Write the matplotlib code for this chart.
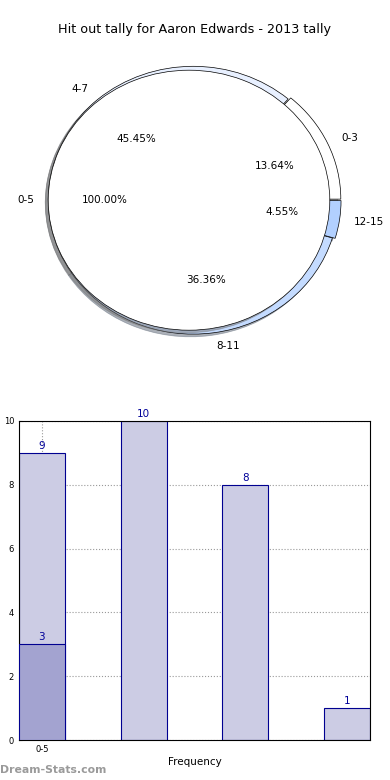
import numpy as np
from matplotlib import pyplot as plt

title = 'Hit out tally for Aaron Edwards - 2013 tally'

# outer ring of the pie
ring_labels = ['0-3', '4-7', '8-11', '12-15']
ring_vals = [13.64, 45.45, 36.36, 4.55]
ring_colors = ['#ffffff', '#e8f0ff', '#c4dbff', '#b2d0ff']

# inner pie
core_labels = ['0-5']
core_vals = [100.0]

# bar chart
bar_vals = [9, 10, 8, 1]
low_vals = [3]
tick_labels = ['0-5']

fig = plt.figure(figsize=(3.9, 7.8), dpi=100)
fig.text(0.5, 1 - 30/780., title, ha='center', va='center', fontsize=9.2)

shad = dict(ox=-0.015, oy=-0.015, shade=0.55)
ax1 = fig.add_axes([13/390., 0.535, 352/390., 325/780.])
w1, t1, p1 = ax1.pie(ring_vals, labels=ring_labels, colors=ring_colors,
                     explode=[0.02, 0, 0, 0.02], radius=1.03, center=(0.03, 0),
                     autopct='%.2f%%', pctdistance=0.6, labeldistance=1.1,
                     shadow=shad, startangle=0,
                     wedgeprops=dict(edgecolor='black', linewidth=0.5),
                     textprops=dict(fontsize=7.5))
w2, t2, p2 = ax1.pie(core_vals, labels=core_labels, colors=['white'],
                     radius=1.0, center=(0, 0), autopct='%.2f%%',
                     pctdistance=0.6, labeldistance=1.1, shadow=shad,
                     wedgeprops=dict(edgecolor='black', linewidth=0.5, zorder=3),
                     textprops=dict(fontsize=7.5, zorder=5))
for t in list(t1) + list(p1):
    t.set_zorder(5)
ax1.set_aspect('auto')
ax1.set_xlim(-1.25, 1.25)
ax1.set_ylim(-1.25, 1.25)
ax1.axis('off')

ax2 = fig.add_axes([19/390., 40/780., 351/390., 319/780.])
x = np.arange(len(bar_vals))
ax2.bar(x, bar_vals, width=0.45, color='#cccce4', edgecolor='#000090', linewidth=0.8, zorder=2)
ax2.bar(x[:len(low_vals)], low_vals, width=0.45, color='#a3a3d0', edgecolor='#000090', linewidth=0.8, zorder=3)
for xi, v in list(zip(x, bar_vals)) + list(zip(x, low_vals)):
    ax2.annotate(str(v), (xi, v), xytext=(0, 1.5), textcoords='offset points',
                 ha='center', va='bottom', color='#000099', fontsize=7.5, zorder=4)
ax2.set_xlim(-0.225, len(bar_vals) - 1 + 0.225)
ax2.set_ylim(0, 10)
ax2.set_yticks(np.arange(0, 11, 2))
ax2.set_xticks([0])
ax2.set_xticklabels(tick_labels)
ax2.tick_params(labelsize=6, length=2, color='gray', direction='in')
ax2.grid(True, linestyle=':', color='#999999', linewidth=0.8, zorder=0)
ax2.set_axisbelow(True)
ax2.set_xlabel('Frequency', fontsize=7.5, labelpad=2)
ax2.set_ylabel('Total Hit Outs', fontsize=7.5)
ax2.yaxis.set_label_coords(-0.05, 0.5)

fig.text(0.0, 1 - 770/780., 'Dream-Stats.com', ha='left', va='center',
         fontsize=7.8, fontweight='bold', color='#9a9a9a')

fig.savefig('out.png', dpi=100)
